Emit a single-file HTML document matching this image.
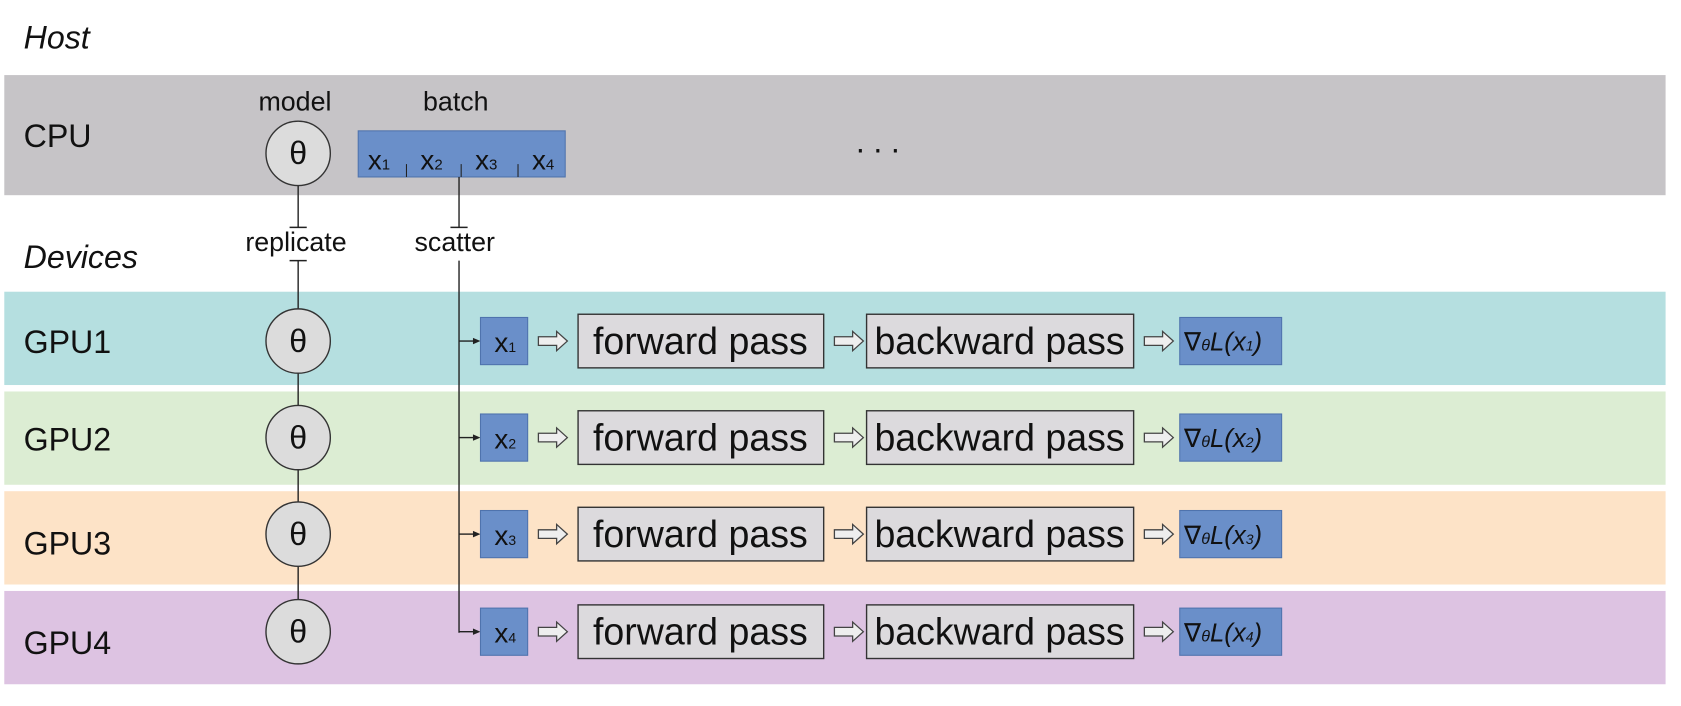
<!DOCTYPE html>
<html><head><meta charset="utf-8"><style>
html,body{margin:0;padding:0;background:#fff;}
svg{display:block;font-family:"Liberation Sans",sans-serif;}
</style></head><body>
<svg id="d" width="1681" height="706" viewBox="0 0 1681 706">
<rect width="1681" height="706" fill="#fff"/>
<g transform="scale(1.0725)">
<g id="bands"></g>
<text x="22" y="45" font-size="30" font-style="italic" fill="#111">Host</text>
<rect x="4" y="70" width="1549" height="112" fill="#c6c4c7"/>
<text x="22" y="137" font-size="30" fill="#111">CPU</text>
<text x="275" y="103" font-size="25" text-anchor="middle" fill="#111">model</text>
<text x="425" y="103" font-size="25" text-anchor="middle" fill="#111">batch</text>
<g>
<rect x="334" y="122" width="193" height="43" fill="#6a8fc9" stroke="#4f73ad" stroke-width="1"/>
<line x1="379" y1="153" x2="379" y2="165" stroke="#222"/>
<line x1="430" y1="153" x2="430" y2="165" stroke="#222"/>
<line x1="483" y1="153" x2="483" y2="165" stroke="#222"/>
<text x="343" y="158" font-size="26" fill="#111">x<tspan font-size="14">1</tspan></text>
<text x="392" y="158" font-size="26" fill="#111">x<tspan font-size="14">2</tspan></text>
<text x="443" y="158" font-size="26" fill="#111">x<tspan font-size="14">3</tspan></text>
<text x="496" y="158" font-size="26" fill="#111">x<tspan font-size="14">4</tspan></text>
</g>
<text x="798" y="142" font-size="30" fill="#111" letter-spacing="8">...</text>
<text x="22" y="250" font-size="30" font-style="italic" fill="#111">Devices</text>
<g stroke="#222" stroke-width="1.3">
<line x1="278" y1="173" x2="278" y2="212"/><line x1="270" y1="212" x2="286" y2="212"/>
<line x1="270" y1="243" x2="286" y2="243"/><line x1="278" y1="243" x2="278" y2="588"/>
</g>
<text x="276" y="234" font-size="25" text-anchor="middle" fill="#111">replicate</text>
<g stroke="#222" stroke-width="1.3">
<line x1="428" y1="165" x2="428" y2="212"/><line x1="420" y1="212" x2="436" y2="212"/>
<line x1="428" y1="243" x2="428" y2="590"/>
</g>
<text x="424" y="234" font-size="25" text-anchor="middle" fill="#111">scatter</text>
<g>
<circle cx="278" cy="143" r="30" fill="#dcdcdc" stroke="#333" stroke-width="1.3"/>
<text x="278" y="153" font-size="30" text-anchor="middle" fill="#111">θ</text>
</g>
<g id="rows"></g>
</g>
</svg>
<script>
const gpus = ['GPU1','GPU2','GPU3','GPU4'];
const bandTop = [272,365,458,551];
const rowMid = [318,408,498,589];
const labelMid = [318,409,506,599];
const colors = ['#b5dfe0','#dcedd3','#fde3c7','#ddc3e2'];
const NS='http://www.w3.org/2000/svg';
const rows=document.getElementById('rows');
const bands=document.getElementById('bands');
function mk(tag,attrs,parent,txt){const e=document.createElementNS(NS,tag);for(const k in attrs)e.setAttribute(k,attrs[k]);if(txt!==undefined)e.innerHTML=txt;parent.appendChild(e);return e;}
function arrow(x,cy,g){mk('polygon',{points:`${x},${cy-4} ${x+17},${cy-4} ${x+17},${cy-9} ${x+27},${cy} ${x+17},${cy+9} ${x+17},${cy+4} ${x},${cy+4}`,fill:'#eee',stroke:'#444','stroke-width':1.2},g);}
gpus.forEach((name,i)=>{
  const top=bandTop[i], cy=rowMid[i], n=i+1;
  const band=mk('rect',{x:4,y:top,width:1549,height:87,fill:colors[i]},bands);
  
  
  const lbl=mk('text',{x:22,y:labelMid[i]+11,'font-size':30,fill:'#111'},rows,name);
  
  
  const c=mk('g',{},rows);
  
  
  mk('circle',{cx:278,cy:cy,r:30,fill:'#dcdcdc',stroke:'#333','stroke-width':1.3},c);
  mk('text',{x:278,y:cy+10,'font-size':30,'text-anchor':'middle',fill:'#111'},c,'θ');
  const sa=mk('g',{},rows);
  
  
  mk('line',{x1:428,y1:cy,x2:442,y2:cy,stroke:'#222','stroke-width':1.3},sa);
  mk('polygon',{points:`448,${cy} 441,${cy-3} 441,${cy+3}`,fill:'#222'},sa);
  const xb=mk('g',{},rows);
  
  
  mk('rect',{x:448,y:cy-22,width:44,height:44,fill:'#6a8fc9',stroke:'#4f73ad'},xb);
  mk('text',{x:461,y:cy+10,'font-size':26,fill:'#111'},xb,'x<tspan font-size="13">'+n+'</tspan>');
  arrow(502,cy,rows);
  const fp=mk('g',{},rows);
  
  
  mk('rect',{x:539,y:cy-25,width:229,height:50,fill:'#dcdadd',stroke:'#333','stroke-width':1.3},fp);
  mk('text',{x:653,y:cy+12,'font-size':35,'text-anchor':'middle',fill:'#111'},fp,'forward pass');
  arrow(778,cy,rows);
  const bp=mk('g',{},rows);
  
  
  mk('rect',{x:808,y:cy-25,width:249,height:50,fill:'#dcdadd',stroke:'#333','stroke-width':1.3},bp);
  mk('text',{x:932,y:cy+12,'font-size':35,'text-anchor':'middle',fill:'#111'},bp,'backward pass');
  arrow(1067,cy,rows);
  const gr=mk('g',{},rows);
  
  
  mk('rect',{x:1100,y:cy-22,width:95,height:44,fill:'#6a8fc9',stroke:'#4f73ad'},gr);
  mk('text',{x:1104,y:cy+9,'font-size':24,fill:'#111'},gr,'∇<tspan font-size="15" font-style="italic">θ</tspan><tspan font-style="italic">L(x</tspan><tspan font-size="13" font-style="italic">'+n+'</tspan><tspan font-style="italic">)</tspan>');
});
</script>
</body></html>
